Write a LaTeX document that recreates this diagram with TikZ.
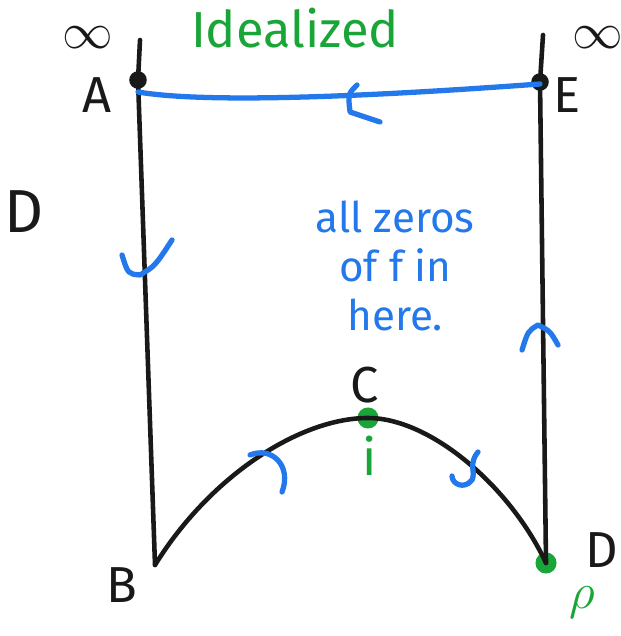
\documentclass[tikz,border=0pt]{standalone}
\usepackage{fontspec}
\setmainfont{Fira Sans}
\usetikzlibrary{positioning, calc}
\definecolor{cPen}{RGB}{25,25,25}
\definecolor{cBlue}{RGB}{35,120,235}
\definecolor{cGreen}{RGB}{25,165,55}
\tikzset{
	edge/.style   ={draw=cPen, line width=1.3pt, line cap=round, line join=round},
	path/.style   ={draw=cBlue, line width=1.5pt, line cap=round, line join=round},
	tick/.style   ={draw=cBlue, line width=1.5pt, line cap=round, line join=round},
	dot/.style    ={circle, fill=cPen, minimum size=5pt, inner sep=0pt},
	gdot/.style   ={circle, fill=cGreen, minimum size=6pt, inner sep=0pt},
	lbl/.style    ={text=cPen, font=\Large},
}
\begin{document}
\begin{tikzpicture}[every node/.style={font=\large}]
			\useasboundingbox (0,0) rectangle (6.20,6.36);
			% corners of the contour
			\coordinate (ltop) at (1.40,5.96);
			\coordinate (rtop) at (5.43,6.01);
			\node[dot]  (A) at (1.38,5.56) {};
			\node[dot]  (E) at (5.40,5.54) {};
			\coordinate (B) at (1.55,0.71);
			\node[gdot] (C) at (3.68,2.18) {};
			\node[gdot] (D) at (5.46,0.73) {};
			\coordinate (a) at (1.38,5.44);
			\coordinate (e) at (5.40,5.52);
			% labels
			\node[text=cGreen, font=\Large] (ttl) at (2.95,6.08) {Idealized};
			\node[lbl] (linf) at (0.88,5.98) {$\infty$};
			\node[lbl] (rinf) at (5.98,5.98) {$\infty$};
			\node[lbl] (lA) at (0.97,5.41) {A};
			\node[lbl] (lE) at (5.67,5.41) {E};
			\node[text=cPen, font=\LARGE] (dom) at (0.24,4.24) {D};
			\node[lbl] (lB) at (1.22,0.51) {B};
			\node[lbl] (lC) at (3.65,2.51) {C};
			\node[lbl] (lD) at (6.02,0.86) {D};
			\node[text=cGreen, font=\Large, inner sep=1pt] (lrho) at (5.82,0.33) {$\rho$};
			\node[text=cGreen, font=\Large] (li) at (3.70,1.80) {i};
			\node[text=cBlue, font=\large, align=center] (note) at (3.95,3.70) {all zeros\\ of f in\\ here.};
			% the contour
			\draw[edge] (ltop) -- (A.center) -- (B);
			\draw[edge] (rtop) -- (E.center) -- (D.center);
			\draw[edge] (B) .. controls (2.10,1.60) and (3.00,2.18) .. (C.center)
				.. controls (4.30,2.18) and (5.10,1.50) .. (D.center);
			\draw[path] (a) .. controls (2.20,5.30) and (4.30,5.44) .. (e);
			% direction marks
			\draw[tick] (3.57,5.51) .. controls (3.48,5.42) .. (3.50,5.24) -- (3.80,5.14);
			\draw[tick] (1.22,3.81) .. controls (1.28,3.62) .. (1.40,3.61) .. controls (1.55,3.70) .. (1.72,3.96);
			\draw[tick] (5.22,2.86) .. controls (5.28,3.05) .. (5.38,3.11) .. controls (5.50,3.05) .. (5.58,2.91);
			\draw[tick] (2.50,1.81) .. controls (2.72,1.90) and (2.92,1.70) .. (2.82,1.44);
			\draw[tick] (4.78,1.84) .. controls (4.68,1.72) and (4.76,1.64) .. (4.72,1.56) .. controls (4.64,1.46) and (4.52,1.52) .. (4.52,1.60);
		\end{tikzpicture}
\end{document}
